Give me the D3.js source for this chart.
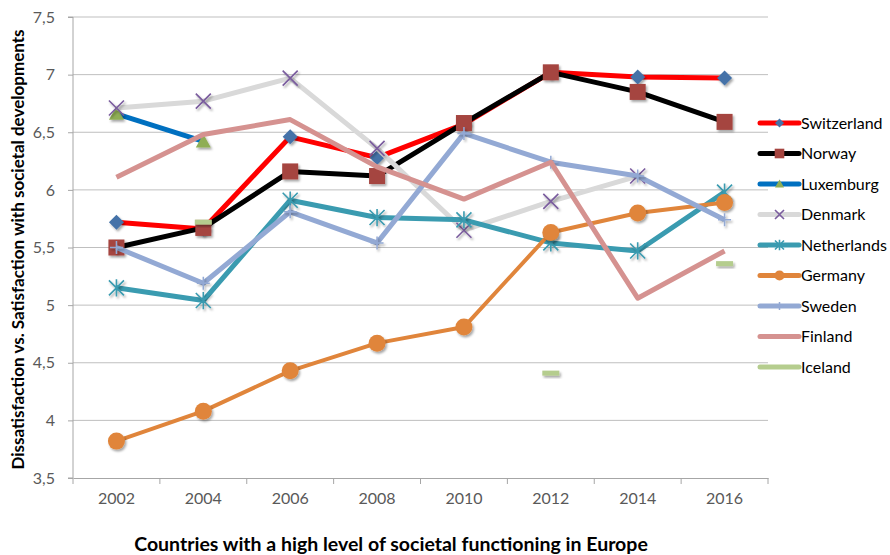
<!DOCTYPE html>
<html>
<head>
<meta charset="utf-8">
<script src="https://d3js.org/d3.v7.min.js"></script>
<style>
  body { margin: 0; background: #fff; }
  text { font-family: Lato, "Open Sans", sans-serif; }
</style>
</head>
<body>
<svg id="chart" width="890" height="555"></svg>
<script>
// categories and tick labels
let years = ["2002", "2004", "2006", "2008", "2010", "2012", "2014", "2016"];
let yTicks = [3.5, 4, 4.5, 5, 5.5, 6, 6.5, 7, 7.5];

// series values (null = no data)
let switzerland = [5.72, 5.66, 6.46, 6.28, 6.57, 7.02, 6.98, 6.97];
let norway      = [5.50, 5.67, 6.16, 6.12, 6.58, 7.02, 6.85, 6.59];
let luxemburg   = [6.66, 6.42, null, null, null, null, null, null];
let denmark     = [6.71, 6.77, 6.97, 6.36, 5.65, 5.90, 6.12, null];
let netherlands = [5.15, 5.04, 5.91, 5.76, 5.74, 5.54, 5.47, 5.98];
let germany     = [3.82, 4.08, 4.43, 4.67, 4.81, 5.63, 5.80, 5.89];
let sweden      = [5.50, 5.19, 5.81, 5.54, 6.49, 6.24, 6.12, 5.74];
let finland     = [6.11, 6.48, 6.61, 6.20, 5.92, 6.24, 5.06, 5.47];
let iceland     = [null, 5.72, null, null, null, 4.41, null, 5.36];

let series = [
  {name: "Switzerland", values: switzerland, line: "#ff0000", lw: 5, marker: "diamond", mcolor: "#4472a8"},
  {name: "Norway", values: norway, line: "#000000", lw: 5, marker: "square", mcolor: "#a5443f"},
  {name: "Luxemburg", values: luxemburg, line: "#0070c0", lw: 5, marker: "triangle", mcolor: "#8fae55"},
  {name: "Denmark", values: denmark, line: "#d9d9d9", lw: 5, marker: "x", mcolor: "#7a5c9e"},
  {name: "Netherlands", values: netherlands, line: "#3a9bb0", lw: 5, marker: "star", mcolor: "#3a9bb0"},
  {name: "Germany", values: germany, line: "#e0853b", lw: 4, marker: "circle", mcolor: "#e0853b"},
  {name: "Sweden", values: sweden, line: "#93a9d4", lw: 5, marker: "plus", mcolor: "#93a9d4"},
  {name: "Finland", values: finland, line: "#d59290", lw: 5, marker: null, mcolor: "#d59290"},
  {name: "Iceland", values: iceland, line: "#b5cd8e", lw: 5, marker: "dash", mcolor: "#b5cd8e"}
];

let svg = d3.select("#chart");
let margin = {top: 17, left: 73, right: 122, bottom: 77};
let width = 890, height = 555;

let defs = svg.append("defs");
let f = defs.append("filter").attr("id", "shadow").attr("x", "-50%").attr("y", "-50%")
  .attr("width", "200%").attr("height", "200%");
f.append("feDropShadow").attr("dx", 1.5).attr("dy", 2).attr("stdDeviation", 1.2)
  .attr("flood-color", "#000").attr("flood-opacity", 0.35);

let x = d3.scaleBand()
  .domain(years)
  .range([margin.left, width - margin.right]);

let y = d3.scaleLinear()
  .domain([3.5, 7.5])
  .range([height - margin.bottom, margin.top]);

// gridlines
svg.append("g")
  .selectAll("line")
  .data(yTicks.slice(1))
  .join("line")
    .attr("x1", margin.left)
    .attr("x2", width - margin.right)
    .attr("y1", d => y(d))
    .attr("y2", d => y(d))
    .attr("stroke", "#bfbfbf")
    .attr("stroke-width", 1);

// y axis
let yAxis = svg.append("g")
  .attr("transform", `translate(${margin.left},0)`)
  .call(d3.axisLeft(y).tickValues(yTicks).tickSize(5).tickPadding(13)
    .tickFormat(d => String(d).replace(".", ",")));
yAxis.select(".domain").attr("stroke", "#a6a6a6").attr("d", `M-5,${y(3.5)}H0V${y(7.5)}H-5`);
yAxis.selectAll(".tick line").attr("stroke", "#a6a6a6");
yAxis.selectAll(".tick text").attr("fill", "#595959").style("font-size", "16px")
  .style("font-family", "Lato, sans-serif");

// x axis
let xAxis = svg.append("g")
  .attr("transform", `translate(0,${height - margin.bottom})`)
  .call(d3.axisBottom(x).tickSize(0).tickPadding(15));
xAxis.select(".domain").attr("stroke", "#a6a6a6");
xAxis.selectAll(".tick text").attr("fill", "#595959").style("font-size", "16px")
  .style("font-family", "Lato, sans-serif");
// category separators
svg.append("g")
  .selectAll("line")
  .data(years.concat(["end"]))
  .join("line")
    .attr("x1", (d, i) => margin.left + i * x.bandwidth())
    .attr("x2", (d, i) => margin.left + i * x.bandwidth())
    .attr("y1", height - margin.bottom)
    .attr("y2", height - margin.bottom + 6)
    .attr("stroke", "#a6a6a6");

// axis titles
svg.append("text")
  .attr("transform", `translate(24,${(y(3.5) + y(7.5)) / 2 + 2}) rotate(-90)`)
  .attr("text-anchor", "middle")
  .style("font-size", "17px")
  .style("font-weight", "bold")
  .text("Dissatisfaction vs. Satisfaction with societal developments");

svg.append("text")
  .attr("x", 391)
  .attr("y", 551)
  .attr("text-anchor", "middle")
  .style("font-size", "19.5px")
  .style("font-weight", "bold")
  .text("Countries with a high level of societal functioning in Europe");

// marker drawing
function drawMarker(g, type, color, s) {
  if (type === "diamond") {
    g.append("path").attr("d", `M0,${-s/2}L${s/2},0L0,${s/2}L${-s/2},0Z`).attr("fill", color);
  } else if (type === "square") {
    g.append("rect").attr("x", -s/2).attr("y", -s/2).attr("width", s).attr("height", s).attr("fill", color);
  } else if (type === "triangle") {
    g.append("path").attr("d", `M0,${-s*0.5}L${s/2},${s*0.4}L${-s/2},${s*0.4}Z`).attr("fill", color);
  } else if (type === "circle") {
    g.append("circle").attr("r", s/2).attr("fill", color);
  } else if (type === "x") {
    let h = s/2;
    g.append("path").attr("d", `M${-h},${-h}L${h},${h}M${h},${-h}L${-h},${h}`)
      .attr("stroke", color).attr("stroke-width", 1.6).attr("fill", "none");
  } else if (type === "star") {
    let h = s/2;
    g.append("path").attr("d", `M${-h},${-h}L${h},${h}M${h},${-h}L${-h},${h}M0,${-h*1.15}V${h*1.15}`)
      .attr("stroke", color).attr("stroke-width", 1.6).attr("fill", "none");
  } else if (type === "plus") {
    let h = s/2;
    g.append("path").attr("d", `M${-h},0H${h}M0,${-h}V${h}`)
      .attr("stroke", color).attr("stroke-width", 1.5).attr("fill", "none");
  } else if (type === "dash") {
    g.append("rect").attr("x", -s/2).attr("y", -2.5).attr("width", s).attr("height", 5).attr("fill", color);
  }
}

let sizes = {diamond: 15, square: 16, triangle: 15, circle: 17, x: 15, star: 15, plus: 13, dash: 17};
let cx = d => x(d) + x.bandwidth() / 2;

let line = d3.line()
  .defined(d => d.v != null)
  .x(d => cx(d.year))
  .y(d => y(d.v));

let plot = svg.append("g");
series.forEach(s => {
  let pts = years.map((yr, i) => ({year: yr, v: s.values[i]}));
  plot.append("path")
    .datum(pts)
    .attr("fill", "none")
    .attr("stroke", s.line)
    .attr("stroke-width", s.lw)
    .attr("stroke-linejoin", "round")
    .attr("d", line);
  if (s.marker) {
    pts.filter(d => d.v != null).forEach(d => {
      let g = plot.append("g")
        .attr("transform", `translate(${cx(d.year)},${y(d.v)})`)
        .attr("filter", "url(#shadow)");
      drawMarker(g, s.marker, s.mcolor, sizes[s.marker]);
    });
  }
});

// legend
let legend = svg.append("g").attr("transform", "translate(760,123)");
series.forEach((s, i) => {
  let g = legend.append("g").attr("transform", `translate(0,${i * 30.5})`);
  g.append("line").attr("x1", 0).attr("x2", 39).attr("y1", 0).attr("y2", 0)
    .attr("stroke", s.line).attr("stroke-width", 5).attr("stroke-linecap", "round");
  if (s.marker && s.marker !== "dash") {
    let m = g.append("g").attr("transform", "translate(19.5,0)");
    drawMarker(m, s.marker, s.mcolor, sizes[s.marker] * 0.6);
  }
  g.append("text")
    .attr("x", 41)
    .attr("y", 5.5)
    .attr("fill", "#000")
    .style("font-size", "16px")
    .text(s.name);
});
</script>
</body>
</html>
